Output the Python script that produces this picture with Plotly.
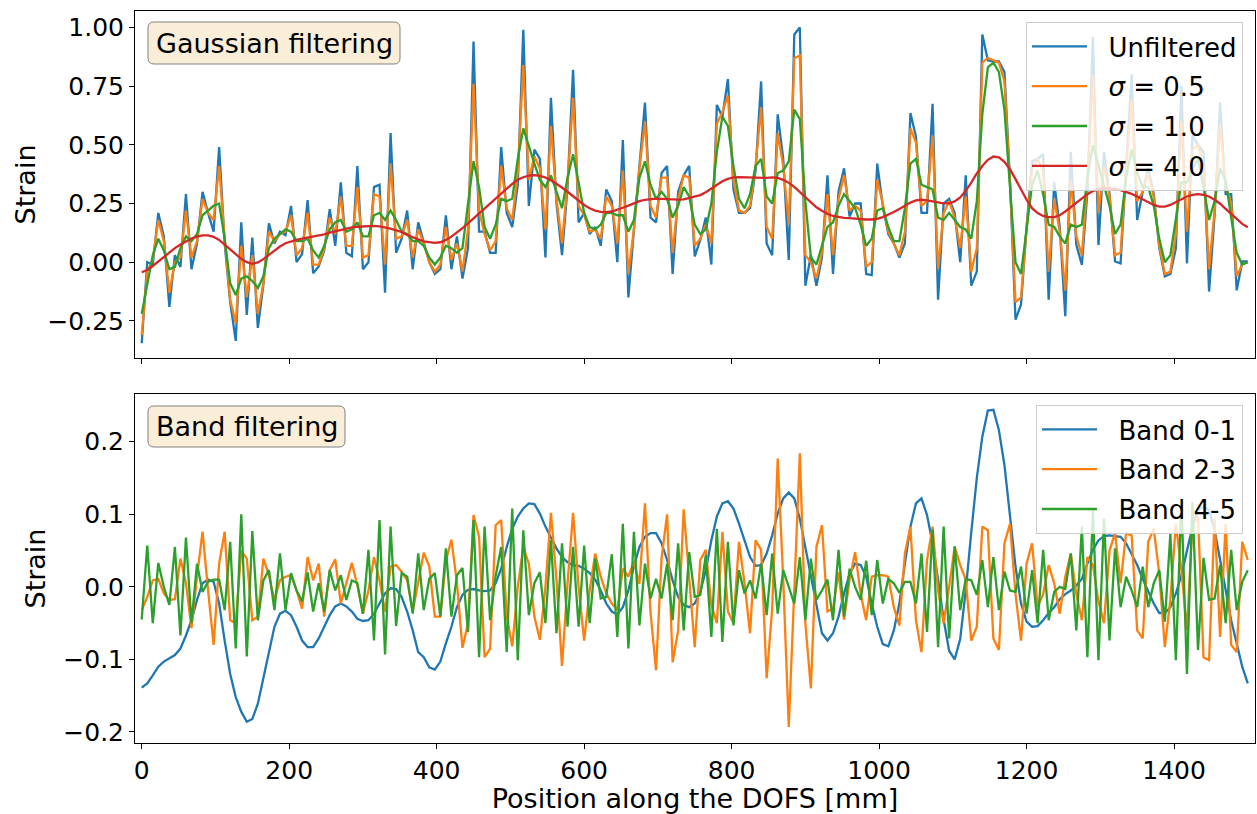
import numpy as np
import plotly.graph_objects as go

# ---------------- data ----------------
step_mm = 7.5
n_samples = 201
position_mm = np.arange(n_samples) * step_mm

unfiltered = [
    -0.345, 0.00, -0.01, 0.21, 0.11, -0.19, 0.03, -0.02, 0.29, -0.03,
    0.08, 0.30, 0.21, 0.13, 0.49, 0.08, -0.17, -0.335, 0.17, -0.225,
    0.105, -0.28, -0.095, 0.166, 0.08, 0.13, 0.115, 0.24, 0.0, 0.035,
    0.265, -0.047, -0.018, 0.05, 0.226, 0.07, 0.34, 0.04, 0.025, 0.41,
    -0.03, 0.0, 0.32, 0.33, -0.13, 0.55, 0.04, 0.10, 0.22, -0.03,
    0.17, 0.08, 0.0, -0.05, -0.03, 0.20, -0.03, 0.11, -0.07, 0.06,
    0.94, 0.13, 0.13, 0.04, 0.04, 0.49, 0.21, 0.15, 0.33, 0.99,
    0.24, 0.48, 0.44, 0.02, 0.70, 0.25, 0.03, 0.32, 0.82, 0.17,
    0.21, 0.12, 0.15, 0.07, 0.31, 0.26, 0.00, 0.52, -0.15, 0.14,
    0.40, 0.68, 0.19, 0.17, 0.38, 0.41, -0.05, 0.30, 0.37, 0.41,
    0.025, 0.095, 0.19, -0.01, 0.67, 0.62, 0.78, 0.31, 0.21, 0.21,
    0.23, 0.39, 0.77, 0.08, 0.03, 0.63, 0.44, 0.01, 0.97, 1.00,
    -0.10, 0.03, -0.10, 0.02, 0.37, -0.05, 0.30, 0.40, 0.195, 0.25,
    0.25, -0.05, -0.055, 0.42, 0.24, 0.12, 0.08, 0.02, 0.08, 0.635,
    0.535, 0.21, 0.21, 0.675, -0.16, 0.25, 0.27, 0.21, 0.00, 0.37,
    -0.10, -0.04, 0.97, 0.86, 0.855, 0.855, 0.81, 0.35, -0.245, -0.18,
    0.15, 0.43, 0.44, 0.46, -0.16, 0.34, 0.15, -0.23, 0.47, 0.074,
    -0.011, 0.30, 0.96, 0.073, 0.47, 0.29, 0.003, -0.005, 0.40, 0.80,
    0.18, 0.30, 0.40, 0.29, 0.06, -0.06, -0.05, 0.06, 0.75, -0.005,
    0.54, 0.50, 0.47, -0.125, 0.20, 0.68, 0.29, 0.29, -0.12, 0.003,
    0.003,
]

sigma_05 = [
    -0.31, -0.04, 0.01, 0.18, 0.09, -0.13, 0.00, 0.02, 0.22, 0.02,
    0.09, 0.27, 0.21, 0.18, 0.41, 0.10, -0.16, -0.26, 0.07, -0.15,
    0.03, -0.22, -0.09, 0.13, 0.09, 0.12, 0.13, 0.20, 0.03, 0.06,
    0.21, -0.01, -0.01, 0.06, 0.19, 0.12, 0.28, 0.07, 0.07, 0.32,
    0.02, 0.03, 0.29, 0.28, -0.01, 0.42, 0.10, 0.11, 0.18, 0.02,
    0.14, 0.08, 0.00, -0.04, -0.01, 0.15, 0.01, 0.08, -0.04, 0.14,
    0.76, 0.22, 0.12, 0.05, 0.09, 0.41, 0.23, 0.18, 0.38, 0.84,
    0.35, 0.45, 0.40, 0.14, 0.58, 0.27, 0.08, 0.34, 0.70, 0.24,
    0.20, 0.13, 0.14, 0.10, 0.28, 0.24, 0.08, 0.39, -0.05, 0.14,
    0.40, 0.60, 0.24, 0.19, 0.36, 0.36, 0.04, 0.27, 0.37, 0.36,
    0.07, 0.10, 0.16, 0.08, 0.59, 0.64, 0.71, 0.35, 0.22, 0.21,
    0.24, 0.41, 0.66, 0.15, 0.10, 0.55, 0.41, 0.16, 0.87, 0.88,
    0.03, 0.00, -0.07, 0.04, 0.29, 0.03, 0.27, 0.37, 0.22, 0.24,
    0.22, -0.02, 0.00, 0.35, 0.25, 0.13, 0.08, 0.03, 0.13, 0.57,
    0.51, 0.24, 0.26, 0.54, -0.03, 0.21, 0.26, 0.19, 0.06, 0.28,
    -0.04, 0.06, 0.85, 0.87, 0.86, 0.85, 0.77, 0.34, -0.17, -0.15,
    0.14, 0.40, 0.44, 0.39, -0.04, 0.27, 0.13, -0.12, 0.35, 0.11,
    0.03, 0.34, 0.80, 0.21, 0.41, 0.28, 0.03, 0.04, 0.40, 0.69,
    0.26, 0.30, 0.38, 0.28, 0.07, -0.05, -0.04, 0.12, 0.60, 0.13,
    0.48, 0.50, 0.41, -0.03, 0.22, 0.59, 0.33, 0.25, -0.06, -0.01,
    0.00,
]

sigma_10 = [
    -0.22, -0.09, 0.03, 0.10, 0.05, -0.03, -0.02, 0.06, 0.11, 0.09,
    0.12, 0.20, 0.22, 0.24, 0.25, 0.10, -0.09, -0.14, -0.07, -0.06,
    -0.08, -0.11, -0.06, 0.06, 0.10, 0.12, 0.14, 0.13, 0.09, 0.09,
    0.10, 0.05, 0.02, 0.07, 0.14, 0.17, 0.18, 0.13, 0.14, 0.17,
    0.11, 0.11, 0.20, 0.21, 0.18, 0.22, 0.18, 0.13, 0.12, 0.09,
    0.09, 0.07, 0.02, -0.01, 0.02, 0.07, 0.06, 0.04, 0.06, 0.25,
    0.43, 0.32, 0.15, 0.10, 0.16, 0.27, 0.26, 0.27, 0.44, 0.57,
    0.49, 0.42, 0.35, 0.32, 0.37, 0.30, 0.23, 0.36, 0.46, 0.34,
    0.21, 0.15, 0.14, 0.16, 0.21, 0.21, 0.20, 0.20, 0.13, 0.18,
    0.36, 0.43, 0.33, 0.27, 0.30, 0.27, 0.19, 0.24, 0.32, 0.28,
    0.16, 0.12, 0.14, 0.25, 0.47, 0.62, 0.58, 0.41, 0.27, 0.23,
    0.29, 0.41, 0.44, 0.28, 0.25, 0.38, 0.39, 0.43, 0.65, 0.61,
    0.26, 0.02, -0.01, 0.07, 0.15, 0.17, 0.24, 0.29, 0.26, 0.23,
    0.16, 0.07, 0.10, 0.22, 0.23, 0.15, 0.09, 0.09, 0.23, 0.42,
    0.44, 0.33, 0.32, 0.31, 0.19, 0.18, 0.21, 0.18, 0.15, 0.14,
    0.10, 0.26, 0.63, 0.83, 0.85, 0.81, 0.65, 0.32, 0.00, -0.05,
    0.13, 0.33, 0.39, 0.29, 0.16, 0.15, 0.11, 0.08, 0.16, 0.15,
    0.16, 0.36, 0.50, 0.41, 0.33, 0.24, 0.12, 0.16, 0.36, 0.48,
    0.38, 0.32, 0.32, 0.24, 0.10, 0.00, 0.03, 0.19, 0.34, 0.34,
    0.40, 0.44, 0.32, 0.18, 0.26, 0.40, 0.35, 0.19, 0.04, -0.01,
    0.00,
]

sigma_40 = [
    -0.043, -0.033, -0.016, 0.004, 0.024, 0.043, 0.060, 0.075, 0.088, 0.101,
    0.109, 0.114, 0.114, 0.108, 0.095, 0.077, 0.055, 0.034, 0.014, 0.000,
    -0.007, -0.001, 0.013, 0.031, 0.050, 0.067, 0.081, 0.089, 0.095, 0.101,
    0.105, 0.109, 0.114, 0.119, 0.126, 0.132, 0.138, 0.143, 0.148, 0.151,
    0.153, 0.155, 0.155, 0.153, 0.149, 0.143, 0.136, 0.128, 0.116, 0.105,
    0.097, 0.089, 0.084, 0.082, 0.085, 0.095, 0.109, 0.126, 0.145, 0.165,
    0.186, 0.207, 0.229, 0.250, 0.271, 0.293, 0.314, 0.334, 0.351, 0.362,
    0.369, 0.371, 0.368, 0.361, 0.349, 0.335, 0.318, 0.300, 0.280, 0.261,
    0.244, 0.230, 0.220, 0.214, 0.213, 0.216, 0.223, 0.232, 0.241, 0.251,
    0.260, 0.266, 0.270, 0.271, 0.270, 0.268, 0.267, 0.267, 0.268, 0.273,
    0.278, 0.286, 0.298, 0.314, 0.331, 0.345, 0.355, 0.361, 0.362, 0.361,
    0.359, 0.358, 0.358, 0.359, 0.361, 0.359, 0.351, 0.338, 0.321, 0.300,
    0.277, 0.254, 0.234, 0.219, 0.206, 0.197, 0.192, 0.189, 0.188, 0.185,
    0.183, 0.182, 0.182, 0.185, 0.192, 0.202, 0.214, 0.227, 0.241, 0.254,
    0.263, 0.266, 0.263, 0.259, 0.254, 0.251, 0.251, 0.259, 0.276, 0.304,
    0.339, 0.378, 0.410, 0.436, 0.450, 0.447, 0.428, 0.396, 0.354, 0.308,
    0.266, 0.230, 0.209, 0.197, 0.192, 0.192, 0.200, 0.216, 0.234, 0.254,
    0.273, 0.290, 0.303, 0.311, 0.315, 0.315, 0.313, 0.307, 0.300, 0.291,
    0.280, 0.268, 0.256, 0.244, 0.237, 0.237, 0.244, 0.256, 0.268, 0.280,
    0.287, 0.290, 0.287, 0.280, 0.266, 0.249, 0.227, 0.206, 0.183, 0.163,
    0.149,
]

band_0_1 = [
    -0.139, -0.133, -0.122, -0.110, -0.103, -0.099, -0.094, -0.085, -0.067, -0.046,
    -0.018, 0.005, 0.010, 0.007, -0.023, -0.074, -0.120, -0.152, -0.172, -0.186,
    -0.182, -0.161, -0.124, -0.087, -0.055, -0.037, -0.033, -0.039, -0.055, -0.074,
    -0.083, -0.083, -0.071, -0.055, -0.039, -0.027, -0.023, -0.027, -0.034, -0.044,
    -0.047, -0.046, -0.037, -0.023, -0.009, -0.002, -0.003, -0.014, -0.034, -0.060,
    -0.090, -0.097, -0.111, -0.114, -0.103, -0.078, -0.055, -0.028, -0.011, -0.004,
    -0.003, -0.005, -0.006, -0.005, 0.005, 0.025, 0.055, 0.080, 0.097, 0.108,
    0.115, 0.114, 0.101, 0.083, 0.067, 0.053, 0.041, 0.034, 0.030, 0.029,
    0.025, 0.019, 0.010, -0.005, -0.023, -0.034, -0.038, -0.028, -0.005, 0.028,
    0.055, 0.069, 0.074, 0.074, 0.060, 0.037, 0.009, -0.014, -0.025, -0.028,
    -0.023, -0.007, 0.023, 0.064, 0.097, 0.115, 0.118, 0.108, 0.087, 0.064,
    0.041, 0.029, 0.030, 0.046, 0.071, 0.101, 0.122, 0.130, 0.122, 0.094,
    0.055, 0.014, -0.028, -0.064, -0.074, -0.064, -0.041, -0.009, 0.018, 0.032,
    0.030, 0.014, -0.023, -0.055, -0.079, -0.082, -0.060, -0.023, 0.032, 0.083,
    0.115, 0.122, 0.099, 0.060, 0.010, -0.045, -0.088, -0.100, -0.072, -0.005,
    0.075, 0.150, 0.207, 0.243, 0.244, 0.216, 0.168, 0.101, 0.028, -0.023,
    -0.048, -0.055, -0.054, -0.046, -0.036, -0.028, -0.017, -0.010, -0.005, 0.002,
    0.011, 0.032, 0.051, 0.064, 0.070, 0.071, 0.070, 0.069, 0.060, 0.046,
    0.030, 0.011, -0.007, -0.023, -0.036, -0.036, -0.028, -0.009, 0.016, 0.051,
    0.083, 0.106, 0.111, 0.106, 0.078, 0.037, -0.005, -0.046, -0.078, -0.110,
    -0.133,
]

band_2_3 = [
    -0.032, -0.014, 0.009, 0.011, -0.009, -0.018, -0.017, 0.039, 0.005, -0.057,
    0.014, 0.076, -0.005, -0.080, 0.032, 0.076, -0.046, -0.050, 0.050, 0.039,
    -0.046, -0.041, 0.039, 0.016, -0.018, 0.009, 0.014, 0.016, -0.005, -0.030,
    0.041, 0.009, 0.032, -0.041, 0.023, 0.038, -0.023, 0.005, 0.033, 0.002,
    -0.037, -0.005, 0.041, 0.009, -0.034, 0.028, 0.030, 0.021, 0.009, -0.034,
    0.005, 0.047, 0.028, -0.041, -0.041, 0.036, 0.065, 0.005, -0.084, -0.050,
    0.099, 0.069, -0.097, -0.085, 0.085, 0.092, -0.040, -0.082, 0.000, 0.055,
    0.032, -0.041, -0.073, 0.000, 0.102, 0.010, -0.109, 0.005, 0.102, 0.000,
    -0.074, -0.005, 0.046, 0.014, -0.009, -0.023, -0.032, 0.025, 0.014, 0.035,
    0.004, 0.115, -0.035, -0.115, 0.040, 0.100, -0.104, -0.060, 0.107, 0.014,
    -0.083, 0.037, 0.051, -0.025, -0.050, 0.076, -0.034, -0.050, 0.062, 0.005,
    -0.064, 0.064, 0.051, -0.126, -0.030, 0.177, 0.010, -0.193, 0.000, 0.184,
    -0.050, -0.140, 0.055, 0.085, -0.034, -0.030, 0.020, -0.045, 0.010, 0.048,
    -0.010, -0.046, 0.014, 0.016, 0.016, 0.014, -0.028, -0.053, 0.046, 0.083,
    -0.046, -0.090, 0.037, 0.083, -0.005, -0.050, 0.000, 0.055, 0.030, 0.010,
    -0.074, -0.055, 0.083, 0.078, -0.071, -0.087, 0.060, 0.087, -0.010, -0.074,
    0.032, 0.060, -0.028, -0.010, 0.030, 0.005, -0.037, 0.014, 0.046, -0.010,
    -0.046, 0.041, 0.030, -0.020, -0.050, 0.050, 0.074, 0.005, 0.074, 0.071,
    -0.060, -0.071, 0.062, 0.080, 0.018, -0.083, -0.018, 0.087, 0.023, -0.060,
    0.087, 0.097, -0.097, -0.101, 0.094, -0.069, 0.087, -0.080, -0.090, 0.062,
    0.037,
]

band_4_5 = [
    -0.045, 0.057, -0.050, 0.033, 0.000, -0.025, 0.055, -0.067, 0.068, -0.050,
    0.032, -0.007, 0.007, 0.010, 0.010, -0.032, 0.062, -0.085, 0.100, -0.096,
    0.077, -0.046, 0.009, 0.023, -0.032, 0.046, -0.032, 0.019, -0.005, -0.020,
    0.020, -0.034, 0.005, -0.034, 0.023, -0.005, 0.016, -0.018, 0.009, 0.005,
    -0.037, 0.051, -0.074, 0.092, -0.093, 0.083, -0.054, 0.019, 0.014, -0.037,
    0.046, -0.032, 0.011, 0.019, -0.041, 0.053, -0.041, 0.016, 0.026, -0.062,
    0.092, -0.097, 0.083, -0.046, 0.015, 0.055, -0.090, 0.108, -0.101, 0.078,
    -0.039, 0.005, 0.020, -0.050, 0.064, -0.064, 0.060, -0.055, 0.055, -0.055,
    0.057, -0.050, 0.039, -0.016, -0.014, 0.045, -0.069, 0.087, -0.085, 0.076,
    -0.053, 0.032, -0.016, 0.011, -0.016, 0.032, -0.046, 0.060, -0.060, 0.048,
    -0.014, -0.011, 0.044, -0.069, 0.080, -0.076, 0.062, -0.053, 0.023, -0.009,
    0.009, -0.016, 0.032, -0.039, 0.046, -0.037, 0.023, 0.000, -0.023, 0.041,
    -0.046, 0.039, -0.018, -0.005, 0.010, -0.046, 0.051, -0.041, 0.025, 0.000,
    -0.018, 0.036, -0.039, 0.037, -0.023, 0.011, 0.005, -0.008, 0.007, 0.007,
    -0.023, 0.046, -0.062, 0.079, -0.083, 0.083, -0.071, 0.056, -0.032, 0.011,
    0.009, -0.011, 0.037, -0.028, 0.041, -0.032, 0.021, -0.005, -0.007, 0.028,
    -0.037, 0.023, -0.050, 0.051, -0.046, -0.007, 0.000, -0.003, 0.046, -0.060,
    0.083, -0.097, 0.106, -0.101, 0.094, -0.074, 0.053, -0.028, 0.014, -0.005,
    -0.028, 0.028, -0.028, 0.005, 0.023, -0.048, 0.073, -0.101, 0.120, -0.120,
    0.117, -0.087, 0.040, -0.018, -0.016, 0.030, -0.050, 0.051, -0.032, 0.007,
    0.023,
]

x_tick_values = [0, 200, 400, 600, 800, 1000, 1200, 1400]
x_tick_labels = ["0", "200", "400", "600", "800", "1000", "1200", "1400"]
top_tick_values = [-0.25, 0.0, 0.25, 0.5, 0.75, 1.0]
top_tick_labels = ["\u22120.25", "0.00", "0.25", "0.50", "0.75", "1.00"]
bottom_tick_values = [-0.2, -0.1, 0.0, 0.1, 0.2]
bottom_tick_labels = ["\u22120.2", "\u22120.1", "0.0", "0.1", "0.2"]

top_series = [
    ("Unfiltered", unfiltered, "#1f77b4"),
    ("<i>\u03c3</i> = 0.5", sigma_05, "#ff7f0e"),
    ("<i>\u03c3</i> = 1.0", sigma_10, "#2ca02c"),
    ("<i>\u03c3</i> = 4.0", sigma_40, "#d62728"),
]
bottom_series = [
    ("Band 0-1", band_0_1, "#1f77b4"),
    ("Band 2-3", band_2_3, "#ff7f0e"),
    ("Band 4-5", band_4_5, "#2ca02c"),
]

# ---------------- figure ----------------
FONT = "DejaVu Sans"
FS_TICK = 25
FS_TEXT = 27
FS_LEG = 26
W, H = 1257, 814
ML, MR, MT, MB = 135, 2, 11, 71
PW = W - ML - MR
PH = H - MT - MB
GAP = "\u00a0\u00a0"  # spacing between legend line and label

fig = go.Figure()
for k, (name, vals, col) in enumerate(top_series):
    fig.add_trace(go.Scatter(x=position_mm, y=vals, mode="lines", name=GAP + name,
                             line=dict(color=col, width=2.3), legendgroup=f"t{k}",
                             xaxis="x", yaxis="y", legend="legend"))
for k, (name, vals, col) in enumerate(bottom_series):
    fig.add_trace(go.Scatter(x=position_mm, y=vals, mode="lines", name=GAP + name,
                             line=dict(color=col, width=2.3), legendgroup=f"b{k}",
                             xaxis="x2", yaxis="y2", legend="legend2"))

axis_common = dict(showline=True, mirror=True, linecolor="black", linewidth=1,
                   ticks="outside", ticklen=5, tickwidth=1, tickcolor="black",
                   showgrid=False, zeroline=False, automargin=False,
                   tickfont=dict(family=FONT, size=FS_TICK, color="black"))

x_range = [-9.1, 1509.8]


def px_to_paper_x(px):
    return (px - ML) / PW


def px_to_paper_y(py):
    return (H - MB - py) / PH


def rounded_box(x0, y0, x1, y1, r=6):
    def P(px, py):
        return f"{px_to_paper_x(px):.5f},{px_to_paper_y(py):.5f}"
    return ("M " + P(x0 + r, y0) + " L " + P(x1 - r, y0) + " Q " + P(x1, y0) + " " + P(x1, y0 + r)
            + " L " + P(x1, y1 - r) + " Q " + P(x1, y1) + " " + P(x1 - r, y1)
            + " L " + P(x0 + r, y1) + " Q " + P(x0, y1) + " " + P(x0, y1 - r)
            + " L " + P(x0, y0 + r) + " Q " + P(x0, y0) + " " + P(x0 + r, y0) + " Z")


top_dom = [px_to_paper_y(358), 1.0]
bot_dom = [0.0, px_to_paper_y(394)]

legend_common = dict(xanchor="right", yanchor="top",
                     bgcolor="rgba(255,255,255,0.8)", bordercolor="#cccccc", borderwidth=1,
                     font=dict(family=FONT, size=FS_LEG), itemwidth=55, tracegroupgap=3,
                     traceorder="grouped")

fig.update_layout(
    width=W, height=H,
    margin=dict(l=ML, r=MR, t=MT, b=MB, autoexpand=False),
    paper_bgcolor="white", plot_bgcolor="white",
    font=dict(family=FONT, size=FS_TICK, color="black"),
    xaxis=dict(domain=[0, 1], anchor="y", range=x_range, tickvals=x_tick_values,
               showticklabels=False, **axis_common),
    xaxis2=dict(domain=[0, 1], anchor="y2", range=x_range, matches="x",
                tickvals=x_tick_values, ticktext=x_tick_labels,
                title=dict(text="Position along the DOFS [mm]", standoff=3,
                           font=dict(family=FONT, size=FS_TEXT)),
                **axis_common),
    yaxis=dict(domain=top_dom, anchor="x", range=[-0.408, 1.070],
               tickvals=top_tick_values, ticktext=top_tick_labels,
               title=dict(text="Strain", standoff=3, font=dict(family=FONT, size=FS_TEXT)),
               **axis_common),
    yaxis2=dict(domain=bot_dom, anchor="x2", range=[-0.2152, 0.2658],
                tickvals=bottom_tick_values, ticktext=bottom_tick_labels,
                title=dict(text="Strain", standoff=9, font=dict(family=FONT, size=FS_TEXT)),
                **axis_common),
    legend=dict(x=px_to_paper_x(1243), y=px_to_paper_y(22), **legend_common),
    legend2=dict(x=px_to_paper_x(1243), y=px_to_paper_y(405), **legend_common),
    showlegend=True,
    hovermode=False,
)

box_fill = "#faeed9"
box_edge = "#808080"
for (x0, y0, x1, y1) in [(148, 22, 400, 64), (148, 406, 345, 447)]:
    fig.add_shape(type="path", path=rounded_box(x0, y0, x1, y1), xref="paper", yref="paper",
                  fillcolor=box_fill, line=dict(color=box_edge, width=1), layer="above")

fig.add_annotation(text="Gaussian filtering", x=px_to_paper_x(274), y=px_to_paper_y(43),
                   xref="paper", yref="paper", showarrow=False, xanchor="center", yanchor="middle",
                   font=dict(family=FONT, size=FS_TEXT, color="black"))
fig.add_annotation(text="Band filtering", x=px_to_paper_x(246.5), y=px_to_paper_y(426.5),
                   xref="paper", yref="paper", showarrow=False, xanchor="center", yanchor="middle",
                   font=dict(family=FONT, size=FS_TEXT, color="black"))

fig.write_html("out.html")
